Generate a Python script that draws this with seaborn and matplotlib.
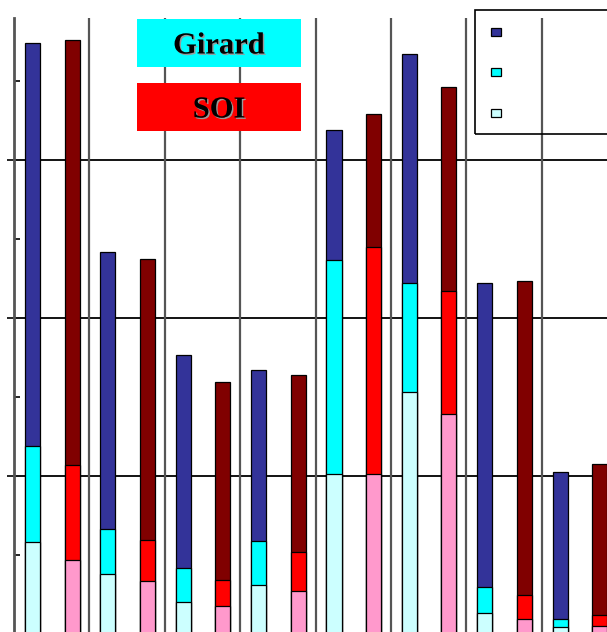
import numpy as np
import pandas as pd
import matplotlib
matplotlib.use("Agg")
import matplotlib.pyplot as plt
import matplotlib.patheffects as pe
from matplotlib.patches import Rectangle
import seaborn as sns

# eight groups, each with a Girard bar and a SOI bar (three stacked parts)
groups = np.arange(8)
girard_low = [0.58, 0.38, 0.20, 0.31, 1.01, 1.53, 0.13, 0.044]
girard_mid = [0.61, 0.285, 0.215, 0.28, 1.36, 0.69, 0.17, 0.051]
girard_top = [2.55, 1.75, 1.35, 1.08, 0.82, 1.45, 1.92, 0.93]
soi_low = [0.47, 0.335, 0.177, 0.27, 1.01, 1.39, 0.095, 0.051]
soi_mid = [0.60, 0.26, 0.165, 0.25, 1.44, 0.78, 0.152, 0.069]
soi_top = [2.69, 1.78, 1.25, 1.12, 0.84, 1.29, 1.99, 0.956]

girard_colors = ["#333399", "#00FFFF", "#CCFFFF"]
soi_colors = ["#800000", "#FF0000", "#FF99CC"]

sns.set_theme(style="white")

fig = plt.figure(figsize=(6.07, 6.32), dpi=100)
W, H = 607, 632
ax = fig.add_axes([14 / W, (632 - 634) / H, 603 / W, (634 - 18) / H])


def stacked(offset, low, mid, top, colors):
    df = pd.DataFrame({"x": groups + offset, "low": low, "mid": mid, "top": top})
    df["c1"] = df["low"]
    df["c2"] = df["low"] + df["mid"]
    df["c3"] = df["c2"] + df["top"]
    for col, color in zip(["c3", "c2", "c1"], colors):
        sns.barplot(data=df, x="x", y=col, native_scale=True, width=0.2,
                    color=color, edgecolor="black", linewidth=0.9,
                    saturation=1, ax=ax, zorder=2)


stacked(0.245, girard_low, girard_mid, girard_top, girard_colors)
stacked(0.77, soi_low, soi_mid, soi_top, soi_colors)

ax.set_xlim(0, 8)
ax.set_ylim(0, (634 - 18) / 158)
ax.set_xlabel("")
ax.set_ylabel("")
ax.set_xticks([])
ax.set_yticks([1, 2, 3])
ax.set_yticks([0.5, 1.5, 2.5, 3.5], minor=True)
ax.set_yticklabels([])
ax.tick_params(axis="y", which="major", direction="out", length=5, width=1.2,
               color="black", left=True)
ax.tick_params(axis="y", which="minor", direction="in", length=4, width=1.2,
               color="black", left=True)
for s in ["top", "right", "bottom"]:
    ax.spines[s].set_visible(False)
ax.spines["left"].set_color("#555555")
ax.spines["left"].set_linewidth(2)

for y in [1, 2, 3]:
    ax.axhline(y, color="black", lw=1.3, zorder=1)
for x in range(1, 8):
    ax.axvline(x, color="#555555", lw=1.6, zorder=1)

# title boxes
for (y0, y1, label, face) in [(19, 67, "Girard", "#00FFFF"), (83, 131, "SOI", "#FF0000")]:
    fig.patches.append(Rectangle((137 / W, 1 - y1 / H), 164 / W, (y1 - y0) / H,
                                 transform=fig.transFigure, facecolor=face,
                                 edgecolor="none", zorder=5))
    fig.text(219 / W, 1 - ((y0 + y1) / 2 + 3) / H, label, ha="center", va="center",
             fontsize=22, fontweight="bold", family="Liberation Serif",
             color="black", zorder=6,
             path_effects=[pe.withSimplePatchShadow(offset=(1, -1),
                                                    shadow_rgbFace="#999999",
                                                    alpha=1)])

# legend frame with markers (labels fall outside the picture)
fig.patches.append(Rectangle((475 / W, 1 - 134 / H), 140 / W, 124 / H,
                             transform=fig.transFigure, facecolor="none",
                             edgecolor="black", lw=1.2, zorder=5))
for yc, color in zip([32, 72, 113], girard_colors):
    fig.patches.append(Rectangle((491 / W, 1 - (yc + 4) / H), 10 / W, 8 / H,
                                 transform=fig.transFigure, facecolor=color,
                                 edgecolor="black", lw=0.9, zorder=6))

fig.savefig("out.png", dpi=100)
